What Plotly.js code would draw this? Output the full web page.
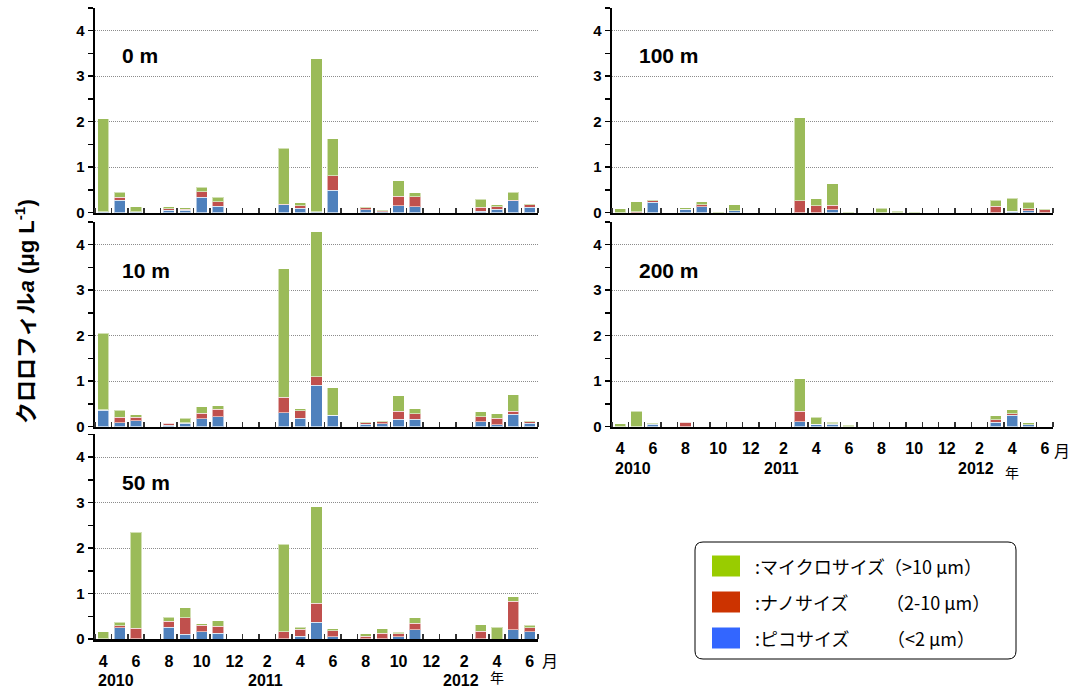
<!DOCTYPE html>
<html>
<head>
<meta charset="utf-8">
<script src="https://cdn.plot.ly/plotly-3.0.1.min.js"></script>
<style>html,body{margin:0;padding:0;background:#fff;}#chart{width:1072px;height:690px;}</style>
</head>
<body>
<div id="chart"></div>
<script>
// Month slots: Apr 2010 ... Jun 2012 (27 months); index 0 = Apr 2010
const monthIndex = [0,1,2,3,4,5,6,7,8,9,10,11,12,13,14,15,16,17,18,19,20,21,22,23,24,25,26];
const tickPositions = [0,2,4,6,8,10,12,14,16,18,20,22,24,26];
const tickLabels = ['4','6','8','10','12','2','4','6','8','10','12','2','4','6'];
const yearLabels = ['2010','2011','2012'];
const yearPositions = [0.8, 9.9, 21.8];

const depthLabels = ['0 m','10 m','50 m','100 m','200 m'];
const seriesNames = ['ピコサイズ','ナノサイズ','マイクロサイズ'];

// values in µg/L (null = no sampling)
const pico_0m  = [0.01,0.27,0.01,null,0.05,0.055,0.33,0.135,null,null,null,0.17,0.095,0.01,0.49,null,0.065,0.015,0.146,0.125,null,null,null,0.03,0.07,0.26,0.12];
const nano_0m  = [0.01,0.06,0.01,null,0.03,0.02,0.125,0.1,null,null,null,0.01,0.05,0.01,0.32,null,0.035,0.02,0.21,0.22,null,null,null,0.09,0.06,0.01,0.045];
const micro_0m = [2.04,0.11,0.11,null,0.045,0.025,0.1,0.1,null,null,null,1.23,0.065,3.36,0.81,null,0.03,0.03,0.34,0.09,null,null,null,0.17,0.045,0.175,0.02];

const pico_10m  = [0.36,0.08,0.13,null,0.03,0.07,0.175,0.21,null,null,null,0.30,0.18,0.91,0.25,null,0.05,0.065,0.16,0.16,null,null,null,0.10,0.035,0.27,0.07];
const nano_10m  = [0.01,0.125,0.07,null,0.04,0.01,0.12,0.17,null,null,null,0.34,0.17,0.18,0.0,null,0.03,0.045,0.175,0.115,null,null,null,0.115,0.145,0.06,0.04];
const micro_10m = [1.68,0.15,0.06,null,0.01,0.1,0.14,0.08,null,null,null,2.83,0.035,3.19,0.6,null,0.03,0.005,0.34,0.11,null,null,null,0.11,0.1,0.37,0.01];

const pico_50m  = [0.005,0.25,0.005,null,0.255,0.11,0.16,0.13,null,null,null,0.005,0.065,0.37,0.045,null,0.005,0.005,0.05,0.2,null,null,null,0.005,0.0,0.2,0.155];
const nano_50m  = [0.005,0.045,0.23,null,0.14,0.36,0.145,0.145,null,null,null,0.15,0.145,0.42,0.14,null,0.06,0.12,0.065,0.145,null,null,null,0.16,0.0,0.63,0.095];
const micro_50m = [0.15,0.07,2.11,null,0.08,0.22,0.03,0.125,null,null,null,1.93,0.05,2.12,0.035,null,0.05,0.1,0.035,0.12,null,null,null,0.145,0.255,0.1,0.05];

const pico_100m  = [0.0,0.0,0.22,null,0.075,0.125,0.0,0.035,null,null,null,0.0,0.0,0.065,0.0,null,0.0,0.0,0.0,null,null,null,null,0.0,0.03,0.04,0.0];
const nano_100m  = [0.0,0.02,0.035,null,0.0,0.05,0.0,0.0,null,null,null,0.26,0.145,0.09,0.0,null,0.0,0.0,0.0,null,null,null,null,0.14,0.0,0.04,0.065];
const micro_100m = [0.08,0.22,0.03,null,0.035,0.065,0.02,0.13,null,null,null,1.82,0.16,0.48,0.02,null,0.09,0.03,0.02,null,null,null,null,0.125,0.28,0.145,0.02];

const pico_200m  = [0.0,0.0,0.045,null,0.0,null,null,null,null,null,null,0.1,0.045,0.045,0.0,null,null,null,null,null,null,null,null,0.09,0.245,0.035,null];
const nano_200m  = [0.0,0.0,0.02,null,0.09,null,null,null,null,null,null,0.23,0.0,0.015,0.0,null,null,null,null,null,null,null,null,0.06,0.035,0.0,null];
const micro_200m = [0.06,0.34,0.02,null,0.02,null,null,null,null,null,null,0.72,0.16,0.03,0.03,null,null,null,null,null,null,null,null,0.09,0.09,0.05,null];

const panelData = [
  [pico_0m, nano_0m, micro_0m],
  [pico_10m, nano_10m, micro_10m],
  [pico_50m, nano_50m, micro_50m],
  [pico_100m, nano_100m, micro_100m],
  [pico_200m, nano_200m, micro_200m]
];

const barColors = ['#4F81BD','#C0504D','#9BBB59'];
const legendColors = ['#3366FF','#CC3300','#99CC00'];

const W = 1072, H = 690;
const px = x => x / W;
const py = y => 1 - y / H;

const FONT = 'Liberation Sans, Arial, "Noto Sans CJK JP", sans-serif';
const JP = '"Noto Sans CJK JP", sans-serif';

// panel geometry in pixels: [left, right, top, bottom]
const panels = [
  [95, 538, 7.75, 212.5],
  [95, 538, 221.75, 426.5],
  [95, 538, 434.25, 639],
  [612, 1053, 7.75, 212.5],
  [612, 1053, 221.75, 426.5]
];
const showXLabels = [false, false, true, false, true];

const traces = [];
panelData.forEach((series, p) => {
  const sfx = p === 0 ? '' : String(p + 1);
  series.forEach((vals, s) => {
    traces.push({
      type: 'bar',
      x: monthIndex,
      y: vals,
      name: seriesNames[s],
      xaxis: 'x' + sfx,
      yaxis: 'y' + sfx,
      width: 0.68,
      marker: {color: barColors[s], line: {color: 'rgba(255,255,255,0.55)', width: 1}},
      showlegend: false,
      hoverinfo: 'y'
    });
  });
});

const layout = {
  width: W, height: H,
  margin: {l: 0, r: 0, t: 0, b: 0},
  paper_bgcolor: '#ffffff',
  plot_bgcolor: '#ffffff',
  barmode: 'stack',
  showlegend: false,
  font: {family: FONT, color: '#000'},
  annotations: [],
  shapes: []
};

panels.forEach((g, p) => {
  const sfx = p === 0 ? '' : String(p + 1);
  layout['xaxis' + sfx] = {
    domain: [px(g[0]), px(g[1])],
    anchor: 'y' + sfx,
    range: [-0.5, 26.5],
    tickmode: 'array',
    tickvals: tickPositions,
    ticktext: tickLabels,
    showticklabels: showXLabels[p],
    ticks: '',
    ticklabelstandoff: 6,
    tickfont: {size: 16, family: FONT, weight: 'bold', color: '#000'},
    showline: true, linecolor: '#000', linewidth: 2.5,
    showgrid: false, zeroline: false,
    minor: {tickmode: 'linear', tick0: -0.5, dtick: 1, ticks: 'inside', ticklen: 5, tickwidth: 1.5, tickcolor: '#333', showgrid: false},
    fixedrange: true
  };
  layout['yaxis' + sfx] = {
    domain: [py(g[3]), py(g[2])],
    anchor: 'x' + sfx,
    range: [0, 4.5],
    tickmode: 'linear', tick0: 0, dtick: 1,
    ticks: 'outside', ticklen: 5, tickwidth: 1.5, tickcolor: '#000',
    tickfont: {size: 15, family: FONT, weight: 'bold', color: '#000'},
    showline: true, linecolor: '#000', linewidth: 2.5,
    showgrid: true, gridcolor: '#8c8c8c', griddash: '1px,1px', gridwidth: 1,
    zeroline: false,
    minor: {tickmode: 'linear', tick0: 0, dtick: 0.5, ticks: 'outside', ticklen: 5, tickwidth: 1.5, tickcolor: '#000', showgrid: false},
    fixedrange: true
  };
});

// Panel depth labels
const labelPos = [[120, 55], [120, 270], [120, 482], [637, 55], [637, 270]];
depthLabels.forEach((t, i) => {
  layout.annotations.push({
    text: '<b>' + t + '</b>', xref: 'paper', yref: 'paper',
    x: px(labelPos[i][0]), y: py(labelPos[i][1]), xanchor: 'left', yanchor: 'middle',
    showarrow: false, font: {size: 21, family: FONT, color: '#000'}
  });
});

// Year labels + 年 / 月 for both bottom axes
[['x3', 680, 677, 540, 660], ['x5', 468, 472, 1052, 450]].forEach(([xr, yy, yn, xm, ym]) => {
  yearLabels.forEach((t, i) => {
    layout.annotations.push({
      text: '<b>' + t + '</b>', xref: xr, yref: 'paper', x: yearPositions[i], y: py(yy),
      xanchor: 'center', yanchor: 'middle', showarrow: false,
      font: {size: 16, family: FONT, color: '#000'}
    });
  });
  layout.annotations.push({
    text: '年', xref: xr, yref: 'paper', x: 24.0, y: py(yn),
    xanchor: 'center', yanchor: 'middle', showarrow: false, borderpad: 0,
    font: {size: 14, family: JP, color: '#000'}
  });
  layout.annotations.push({
    text: '月', xref: 'paper', yref: 'paper', x: px(xm), y: py(ym),
    xanchor: 'left', yanchor: 'middle', showarrow: false,
    font: {size: 16, family: JP, color: '#000'}
  });
});

// Y axis title
layout.annotations.push({
  text: '<b>クロロフィル<i>a</i> (μg L<sup>-1</sup>)</b>', xref: 'paper', yref: 'paper',
  x: px(25), y: py(312), xanchor: 'center', yanchor: 'middle', textangle: -90,
  showarrow: false, font: {size: 22, family: FONT, color: '#000'}
});

// Legend box (rounded rectangle)
(function () {
  const x0 = 695, x1 = 1016, y0 = 542, y1 = 659, r = 8;
  const P = (x, y) => px(x) + ',' + py(y);
  const path = 'M' + P(x0 + r, y0) + ' L' + P(x1 - r, y0) + ' Q' + P(x1, y0) + ' ' + P(x1, y0 + r) +
    ' L' + P(x1, y1 - r) + ' Q' + P(x1, y1) + ' ' + P(x1 - r, y1) +
    ' L' + P(x0 + r, y1) + ' Q' + P(x0, y1) + ' ' + P(x0, y1 - r) +
    ' L' + P(x0, y0 + r) + ' Q' + P(x0, y0) + ' ' + P(x0 + r, y0) + ' Z';
  layout.shapes.push({type: 'path', xref: 'paper', yref: 'paper', path: path,
    line: {color: '#000', width: 1}, fillcolor: 'rgba(255,255,255,0)'});
})();

const legendRows = [
  {color: legendColors[2], name: ':マイクロサイズ', range: '（>10 μm）', y: 566, rx: 882},
  {color: legendColors[1], name: ':ナノサイズ', range: '（2-10 μm）', y: 602, rx: 884},
  {color: legendColors[0], name: ':ピコサイズ', range: '（<2 μm）', y: 638, rx: 885}
];
legendRows.forEach(row => {
  layout.shapes.push({type: 'rect', xref: 'paper', yref: 'paper',
    x0: px(712), x1: px(740), y0: py(row.y + 10.5), y1: py(row.y - 10.5),
    fillcolor: row.color, line: {width: 0}});
  layout.annotations.push({text: row.name, xref: 'paper', yref: 'paper',
    x: px(753), y: py(row.y), xanchor: 'left', yanchor: 'middle', showarrow: false,
    font: {size: 18, family: JP, color: '#000'}});
  layout.annotations.push({text: row.range.replace('<', '&lt;'), xref: 'paper', yref: 'paper',
    x: px(row.rx), y: py(row.y), xanchor: 'left', yanchor: 'middle', showarrow: false,
    font: {size: 18, family: JP, color: '#000'}});
});

Plotly.newPlot('chart', traces, layout, {displayModeBar: false, staticPlot: true});
</script>
</body>
</html>
